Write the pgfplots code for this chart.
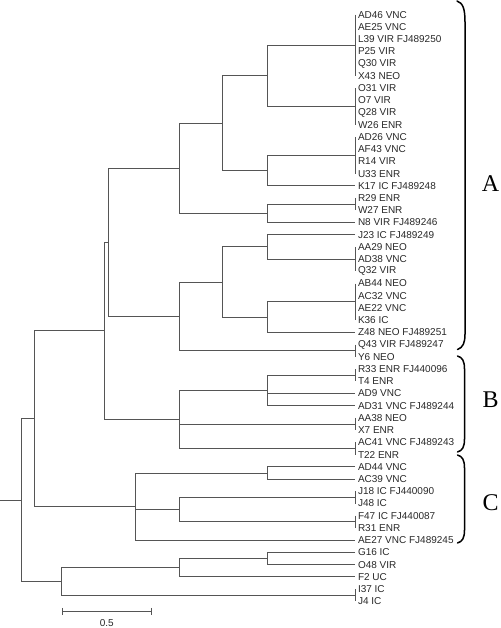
\documentclass[border=0pt]{standalone}
\usepackage{pgfplots}
\pgfplotsset{compat=1.18}
\usepackage{pgfplotstable}
\usepackage{fontspec}
\setmainfont{Liberation Sans}
\newfontfamily\seriffont{Liberation Serif}
\definecolor{treecol}{RGB}{85,85,85}
\definecolor{labcol}{RGB}{40,40,40}

\pgfplotstableread[col sep=comma]{
x,y,label
355,14.7,AD46 VNC
355,26.92,AE25 VNC
355,39.14,L39 VIR FJ489250
355,51.36,P25 VIR
355,63.58,Q30 VIR
355,75.8,X43 NEO
355,88.02,O31 VIR
355,100.24,O7 VIR
355,112.46,Q28 VIR
355,124.68,W26 ENR
355,136.9,AD26 VNC
355,149.12,AF43 VNC
355,161.34,R14 VIR
355,173.56,U33 ENR
355,185.78,K17 IC FJ489248
355,198.0,R29 ENR
355,210.22,W27 ENR
355,222.44,N8 VIR FJ489246
355,234.66,J23 IC FJ489249
355,246.88,AA29 NEO
355,259.1,AD38 VNC
355,271.32,Q32 VIR
355,283.54,AB44 NEO
355,295.76,AC32 VNC
355,307.98,AE22 VNC
355,320.2,K36 IC
355,332.42,Z48 NEO FJ489251
355,344.64,Q43 VIR FJ489247
355,356.86,Y6 NEO
355,369.08,R33 ENR FJ440096
355,381.3,T4 ENR
355,393.52,AD9 VNC
355,405.74,AD31 VNC FJ489244
355,417.96,AA38 NEO
355,430.18,X7 ENR
355,442.4,AC41 VNC FJ489243
355,454.62,T22 ENR
355,466.84,AD44 VNC
355,479.06,AC39 VNC
355,491.28,J18 IC FJ440090
355,503.5,J48 IC
355,515.72,F47 IC FJ440087
355,527.94,R31 ENR
355,540.16,AE27 VNC FJ489245
355,552.38,G16 IC
355,564.6,O48 VIR
355,576.82,F2 UC
355,589.04,I37 IC
355,601.26,J4 IC
}\leaves

\begin{document}
\begin{tikzpicture}
\begin{axis}[
  x=1pt, y=1pt, y dir=reverse,
  xmin=0, xmax=500, ymin=0, ymax=628,
  hide axis, clip=false, scale only axis,
  tree/.style={draw=treecol, line width=0.9pt, mark=none, line join=miter},
]
% internal nodes (elbows)
\addplot[tree] coordinates {(355,45.25) (267.3,45.25) (267.3,106.35) (355,106.35)};
\addplot[tree] coordinates {(355,155.23) (267.3,155.23) (267.3,185.78) (355,185.78)};
\addplot[tree] coordinates {(267.3,75.8) (222.7,75.8) (222.7,170.5) (267.3,170.5)};
\addplot[tree] coordinates {(355,204.11) (267.3,204.11) (267.3,222.44) (355,222.44)};
\addplot[tree] coordinates {(222.7,123.15) (179.3,123.15) (179.3,213.28) (267.3,213.28)};
\addplot[tree] coordinates {(355,234.66) (267.3,234.66) (267.3,259.1) (355,259.1)};
\addplot[tree] coordinates {(355,301.87) (267.3,301.87) (267.3,332.42) (355,332.42)};
\addplot[tree] coordinates {(267.3,246.88) (222.7,246.88) (222.7,317.15) (267.3,317.15)};
\addplot[tree] coordinates {(222.7,282.0) (179.3,282.0) (179.3,350.75) (355,350.75)};
\addplot[tree] coordinates {(179.3,168.2) (108.3,168.2) (108.3,316.4) (179.3,316.4)};
\addplot[tree] coordinates {(355,375.19) (267.3,375.19) (267.3,405.74) (355,405.74)};
\addplot[tree] coordinates {(267.3,393.52) (355,393.52)};
\addplot[tree] coordinates {(267.3,390.47) (179.3,390.47) (179.3,448.51) (355,448.51)};
\addplot[tree] coordinates {(179.3,424.07) (355,424.07)};
\addplot[tree] coordinates {(108.3,242.3) (104,242.3) (104,419.49) (179.3,419.49)};
\addplot[tree] coordinates {(355,466.84) (267.3,466.84) (267.3,479.06) (355,479.06)};
\addplot[tree] coordinates {(355,497.39) (179.3,497.39) (179.3,521.83) (355,521.83)};
\addplot[tree] coordinates {(267.3,472.95) (135,472.95) (135,540.16) (355,540.16)};
\addplot[tree] coordinates {(179.3,509.61) (135,509.61)};
\addplot[tree] coordinates {(104,330.9) (34.3,330.9) (34.3,506.56) (135,506.56)};
\addplot[tree] coordinates {(355,552.38) (267.3,552.38) (267.3,564.6) (355,564.6)};
\addplot[tree] coordinates {(267.3,558.49) (179.3,558.49) (179.3,576.82) (355,576.82)};
\addplot[tree] coordinates {(179.3,567.66) (61.7,567.66) (61.7,595.15) (355,595.15)};
\addplot[tree] coordinates {(34.3,418.73) (21.7,418.73) (21.7,581.4) (61.7,581.4)};
\addplot[tree] coordinates {(0,500.07) (21.7,500.07)};
% zero-length leaf groups (tip bars)
\addplot[tree] coordinates {(355,14.7) (355,75.8)};
\addplot[tree] coordinates {(355,88.02) (355,124.68)};
\addplot[tree] coordinates {(355,136.9) (355,173.56)};
\addplot[tree] coordinates {(355,198.0) (355,210.22)};
\addplot[tree] coordinates {(355,246.88) (355,271.32)};
\addplot[tree] coordinates {(355,283.54) (355,320.2)};
\addplot[tree] coordinates {(355,344.64) (355,356.86)};
\addplot[tree] coordinates {(355,369.08) (355,381.3)};
\addplot[tree] coordinates {(355,417.96) (355,430.18)};
\addplot[tree] coordinates {(355,442.4) (355,454.62)};
\addplot[tree] coordinates {(355,491.28) (355,503.5)};
\addplot[tree] coordinates {(355,515.72) (355,527.94)};
\addplot[tree] coordinates {(355,589.04) (355,601.26)};
% leaf labels
\addplot[mark=none, draw=none, nodes near coords, point meta=explicit symbolic,
  every node near coord/.append style={anchor=west, inner sep=0pt, xshift=2.8pt,
    font=\fontsize{10}{12}\selectfont, text=labcol}]
  table[x=x, y=y, meta=label] {\leaves};
% scale bar
\addplot[tree] coordinates {(62.7,611) (151.7,611)};
\addplot[tree] coordinates {(62.7,607.8) (62.7,614.5)};
\addplot[tree] coordinates {(151.7,607.8) (151.7,614.5)};
\node[font=\fontsize{10}{12}\selectfont, text=labcol] at (axis cs:106.7,623.5) {0.5};
% clade brackets
\draw[line width=1.5pt, line cap=round] (axis cs:457,1) .. controls (axis cs:463,3) and (axis cs:465,9) .. (axis cs:465,22)
   -- (axis cs:465,334) .. controls (axis cs:465,343) and (axis cs:463,347.5) .. (axis cs:457.5,349.5);
\draw[line width=1.5pt, line cap=round] (axis cs:457.5,356) .. controls (axis cs:462.5,357.5) and (axis cs:464.5,361) .. (axis cs:464.5,369)
   -- (axis cs:464.5,439) .. controls (axis cs:464.5,447) and (axis cs:462.5,450.5) .. (axis cs:457.5,452);
\draw[line width=1.5pt, line cap=round] (axis cs:457.5,455) .. controls (axis cs:462.5,456.5) and (axis cs:464.5,460) .. (axis cs:464.5,468)
   -- (axis cs:464.5,530) .. controls (axis cs:464.5,538) and (axis cs:462.5,541.5) .. (axis cs:457.5,543);
\node[font=\seriffont\fontsize{24}{26}\selectfont] at (axis cs:490.5,183.5) {A};
\node[font=\seriffont\fontsize{24}{26}\selectfont] at (axis cs:490.5,399.5) {B};
\node[font=\seriffont\fontsize{24}{26}\selectfont] at (axis cs:490.5,502.5) {C};
\end{axis}
\pgfresetboundingbox
\useasboundingbox (current axis.south west) rectangle (current axis.north east);
\end{tikzpicture}
\end{document}
